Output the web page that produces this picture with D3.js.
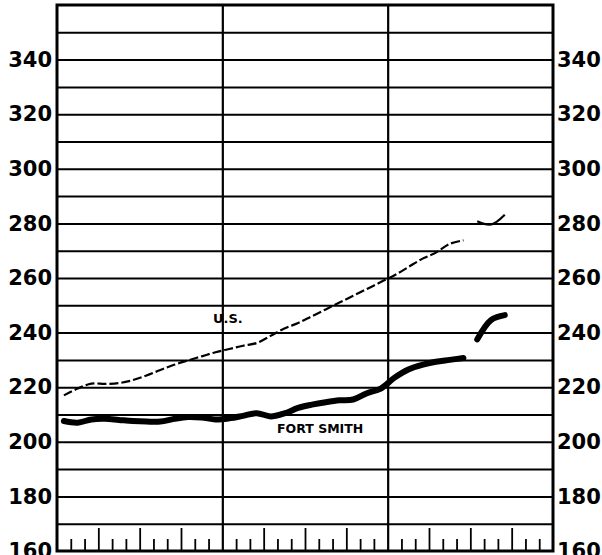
<!DOCTYPE html>
<html><head><meta charset="utf-8">
<script src="https://cdn.jsdelivr.net/npm/d3@7"></script>
<style>body{margin:0;background:#fff}svg{display:block}</style>
</head><body>
<svg id="c" width="602" height="555"></svg>
<script>
const yTicks = [180,200,220,240,260,280,300,320,340];
const gridValues = [170,180,190,200,210,220,230,240,250,260,270,280,290,300,310,320,330,340,350];
const sectionBreaks = [12,24];
const minorMonths = [1,2,4,5,7,8,10,11,13,14,16,17,19,20,22,23,25,26,28,29,31,32,34,35];
const quarterMonths = [3,6,9,15,18,21,27,30,33];
const monthsA = [0.5,1.5,2.5,3.5,4.5,5.5,6.5,7.5,8.5,9.5,10.5,11.5,12.5,13.5,14.5,15.5,16.5,17.5,18.5,19.5,20.5,21.5,22.5,23.5,24.5,25.5,26.5,27.5,28.5,29.5];
const monthsB = [30.5,31.5,32.5];
const usA = [217,219.5,221.3,221.2,221.5,222.6,224.3,226.3,228.2,229.8,231.3,232.8,234,235.2,236.2,238.8,241.5,243.5,246,248.5,251,253.5,256,258.5,261,264,267,269.3,272.5,273.8];
const usB = [280.8,279.6,283.2];
const fsA = [207.6,207.0,208.2,208.4,208.0,207.6,207.4,207.4,208.4,209.1,208.9,208.2,208.6,209.5,210.5,209.3,210.4,212.4,213.6,214.5,215.2,215.5,217.8,219.5,223.5,226.5,228.2,229.3,230,230.7];
const fsB = [237.5,244.6,246.4];
const seriesLabels = ["U.S.","FORT SMITH"];

const svg = d3.select("#c");
const L=57,R=553,T=5,B=551;
const x = d3.scaleLinear().domain([0,36]).range([L,R]);
const y = d3.scaleLinear().domain([160,360]).range([B,T]);
const font = "'DejaVu Sans', sans-serif";

// horizontal grid
svg.append("g").attr("transform",`translate(${L},0)`)
  .call(d3.axisLeft(y).tickValues(gridValues).tickSize(-(R-L)).tickFormat(""))
  .call(g=>g.select(".domain").remove())
  .call(g=>g.selectAll("line").attr("stroke","#000").attr("stroke-width",2));

// vertical section lines
svg.append("g").attr("transform",`translate(0,${B})`)
  .call(d3.axisBottom(x).tickValues(sectionBreaks).tickSize(-(B-T)).tickFormat(""))
  .call(g=>g.select(".domain").remove())
  .call(g=>g.selectAll("line").attr("stroke","#000").attr("stroke-width",2.2));

// month ticks
svg.append("g").attr("transform",`translate(0,${B})`)
  .call(d3.axisBottom(x).tickValues(minorMonths).tickSize(-12).tickFormat(""))
  .call(g=>g.select(".domain").remove())
  .call(g=>g.selectAll("line").attr("stroke","#000").attr("stroke-width",1.8));
svg.append("g").attr("transform",`translate(0,${B})`)
  .call(d3.axisBottom(x).tickValues(quarterMonths).tickSize(-23).tickFormat(""))
  .call(g=>g.select(".domain").remove())
  .call(g=>g.selectAll("line").attr("stroke","#000").attr("stroke-width",1.8));

// border
svg.append("rect").attr("x",L).attr("y",T).attr("width",R-L).attr("height",B-T)
  .attr("fill","none").attr("stroke","#000").attr("stroke-width",3);

// y labels
const lab = (axis, tx) => svg.append("g").attr("transform",`translate(${tx},0)`)
  .call(axis.tickValues(yTicks.concat([160])).tickSize(0).tickPadding(0).tickFormat(d3.format("d")))
  .call(g=>g.select(".domain").remove())
  .call(g=>g.selectAll("text").attr("font-family",font).attr("font-weight","bold").attr("font-size",21).attr("fill","#000"));
lab(d3.axisLeft(y), 52);
lab(d3.axisRight(y), 557);

const line = d3.line().x(d=>x(d[0])).y(d=>y(d[1])).curve(d3.curveCatmullRom);
const zip = (a,b)=>a.map((m,i)=>[m,b[i]]);

svg.append("path").datum(zip(monthsA,usA)).attr("d",line).attr("fill","none")
  .attr("stroke","#000").attr("stroke-width",2.2).attr("stroke-dasharray","9,3");
svg.append("path").datum(zip(monthsB,usB)).attr("d",line).attr("fill","none")
  .attr("stroke","#000").attr("stroke-width",2.2);
svg.append("path").datum(zip(monthsA,fsA)).attr("d",line).attr("fill","none")
  .attr("stroke","#000").attr("stroke-width",6).attr("stroke-linecap","round");
svg.append("path").datum(zip(monthsB,fsB)).attr("d",line).attr("fill","none")
  .attr("stroke","#000").attr("stroke-width",6).attr("stroke-linecap","round");

svg.append("text").attr("x",x(12.4)).attr("y",y(243.5)).attr("text-anchor","middle")
  .attr("font-family",font).attr("font-weight","bold").attr("font-size",13).text(seriesLabels[0]);
svg.append("text").attr("x",x(19.1)).attr("y",y(203.2)).attr("text-anchor","middle")
  .attr("font-family",font).attr("font-weight","bold").attr("font-size",12.5).text(seriesLabels[1]);
</script>
</body></html>
